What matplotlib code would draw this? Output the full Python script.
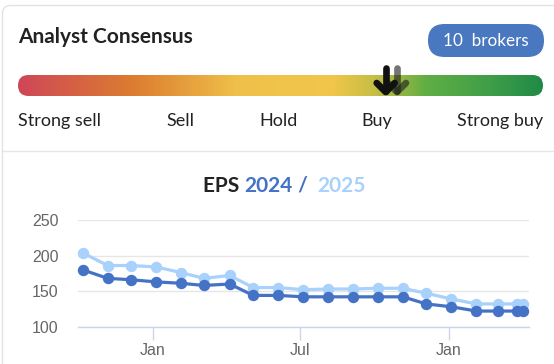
import matplotlib
matplotlib.use("Agg")
import matplotlib.pyplot as plt
import matplotlib.dates as mdates
import numpy as np
import pandas as pd
from matplotlib.patches import FancyBboxPatch
from matplotlib.colors import LinearSegmentedColormap

# data
dates = pd.to_datetime([
    "2023-10-06", "2023-11-06", "2023-12-05", "2024-01-05", "2024-02-05",
    "2024-03-04", "2024-04-05", "2024-05-04", "2024-06-04", "2024-07-05",
    "2024-08-05", "2024-09-05", "2024-10-05", "2024-11-05", "2024-12-04",
    "2025-01-04", "2025-02-04", "2025-03-03", "2025-03-26", "2025-04-03",
])
eps_2024 = [180, 168, 166, 163, 161, 158, 160, 144, 144, 142,
            142, 142, 142, 142, 132, 128, 122, 122, 122, 122]
eps_2025 = [204, 186, 186, 184, 176, 168, 172, 155, 155, 152,
            153, 153, 154, 154, 147, 139, 132, 132, 132, 132]
rating_labels = ["Strong sell", "Sell", "Hold", "Buy", "Strong buy"]
brokers = 10
yticks = [100, 150, 200, 250]

C_2024 = "#4472c4"
C_2025 = "#a8d1fb"

W, H = 554, 364
fig = plt.figure(figsize=(W / 100, H / 100), dpi=100)
fig.patch.set_facecolor("white")

# overlay axes in pixel units (y down)
bg = fig.add_axes([0, 0, 1, 1])
bg.set_xlim(0, W)
bg.set_ylim(H, 0)
bg.axis("off")

# card
card = FancyBboxPatch((2.5, 5.5), 700, 500, boxstyle="round,pad=0,rounding_size=8",
                      fc="white", ec="#e3e3e3", lw=1.0)
bg.add_patch(card)
bg.plot([2.5, W], [151, 151], color="#e6e6e6", lw=1.0)

bg.text(18, 37, "Analyst Consensus", family="Lato", weight="bold", fontsize=15,
        color="#222222", va="center", ha="left")

pill = FancyBboxPatch((428, 24), 116, 33, boxstyle="round,pad=0,rounding_size=16.5",
                      fc="#4a78c0", ec="none")
bg.add_patch(pill)
bg.text(486, 41, f"{brokers}  brokers", family="Lato", fontsize=12.3, color="white",
        va="center", ha="center")

# gradient bar
cmap = LinearSegmentedColormap.from_list("cons", [
    (0.0, "#cf4757"), (0.22, "#dc7d30"), (0.42, "#f0c14a"), (0.6, "#f0c64b"),
    (0.68, "#c7be44"), (0.78, "#5fae44"), (0.9, "#3f9e48"), (1.0, "#218a47")])
grad = np.linspace(0, 1, 512).reshape(1, -1)
im = bg.imshow(grad, extent=[18, 543, 96, 75], aspect="auto", cmap=cmap,
               interpolation="bilinear", zorder=2)
clip = FancyBboxPatch((18, 75), 525, 21, boxstyle="round,pad=0,rounding_size=10.5",
                      fc="none", ec="none", transform=bg.transData)
bg.add_patch(clip)
im.set_clip_path(clip)
bg.set_xlim(0, W)
bg.set_ylim(H, 0)

# arrows
for ax_x, col, al in [(397, "#1a1a1a", 0.6), (385.7, "#111111", 1.0)]:
    bg.plot([ax_x, ax_x], [68, 91], color=col, alpha=al, lw=4.8,
            solid_capstyle="round", zorder=5)
    bg.plot([ax_x - 9, ax_x, ax_x + 9], [83, 92, 83], color=col, alpha=al, lw=4.8,
            solid_capstyle="round", solid_joinstyle="round", zorder=5)

label_x = [18, 180.5, 278.5, 377, 543]
label_ha = ["left", "center", "center", "center", "right"]
for lab, lx, ha in zip(rating_labels, label_x, label_ha):
    bg.text(lx, 121, lab, family="Lato", fontsize=13, color="#222222",
            va="center", ha=ha)

# chart title in pieces
fs_t = 15
t1 = bg.text(203, 192, "EPS ", family="Lato", weight="bold", fontsize=fs_t,
             color="#222222", va="baseline", ha="left")
t2 = bg.annotate("2024", xy=(1, 0), xycoords=t1, family="Lato", weight="bold",
                 fontsize=fs_t, color=C_2024, va="bottom", ha="left")
t3 = bg.annotate(" /  ", xy=(1, 0), xycoords=t2, family="Lato", weight="bold",
                 fontsize=fs_t, color=C_2024, va="bottom", ha="left")
t4 = bg.annotate("2025", xy=(1, 0), xycoords=t3, family="Lato", weight="bold",
                 fontsize=fs_t, color=C_2025, va="bottom", ha="left")

# EPS chart
x0, x1 = 77.7, 529
y0, y1 = 220, 326.7
ax = fig.add_axes([x0 / W, 1 - y1 / H, (x1 - x0) / W, (y1 - y0) / H])
ax.set_facecolor("none")
ax.plot(dates, eps_2025, color=C_2025, lw=2.3, marker="o", ms=7.2, zorder=3,
        clip_on=False)
ax.plot(dates, eps_2024, color=C_2024, lw=2.3, marker="o", ms=7.2, zorder=4,
        clip_on=False)
ax.set_ylim(100, 250)
ax.set_yticks(yticks)
ax.set_xlim(pd.Timestamp("2023-09-30"), pd.Timestamp("2025-04-10"))
ax.xaxis.set_major_locator(mdates.MonthLocator(bymonth=[1, 7]))
ax.xaxis.set_major_formatter(mdates.DateFormatter("%b"))
ax.grid(axis="y", color="#e6e6e6", lw=1.0)
ax.set_axisbelow(True)
for s in ["top", "right", "left"]:
    ax.spines[s].set_visible(False)
ax.spines["bottom"].set_color("#ccd6eb")
ax.spines["bottom"].set_linewidth(1.0)
ax.tick_params(axis="y", length=0, pad=14, labelsize=11.5, labelcolor="#666666")
ax.tick_params(axis="x", length=9, color="#ccd6eb", width=1.0, pad=3,
               labelsize=11.5, labelcolor="#666666")
for lab in ax.get_xticklabels() + ax.get_yticklabels():
    lab.set_family("Liberation Sans")

fig.savefig("out.png", dpi=100)
